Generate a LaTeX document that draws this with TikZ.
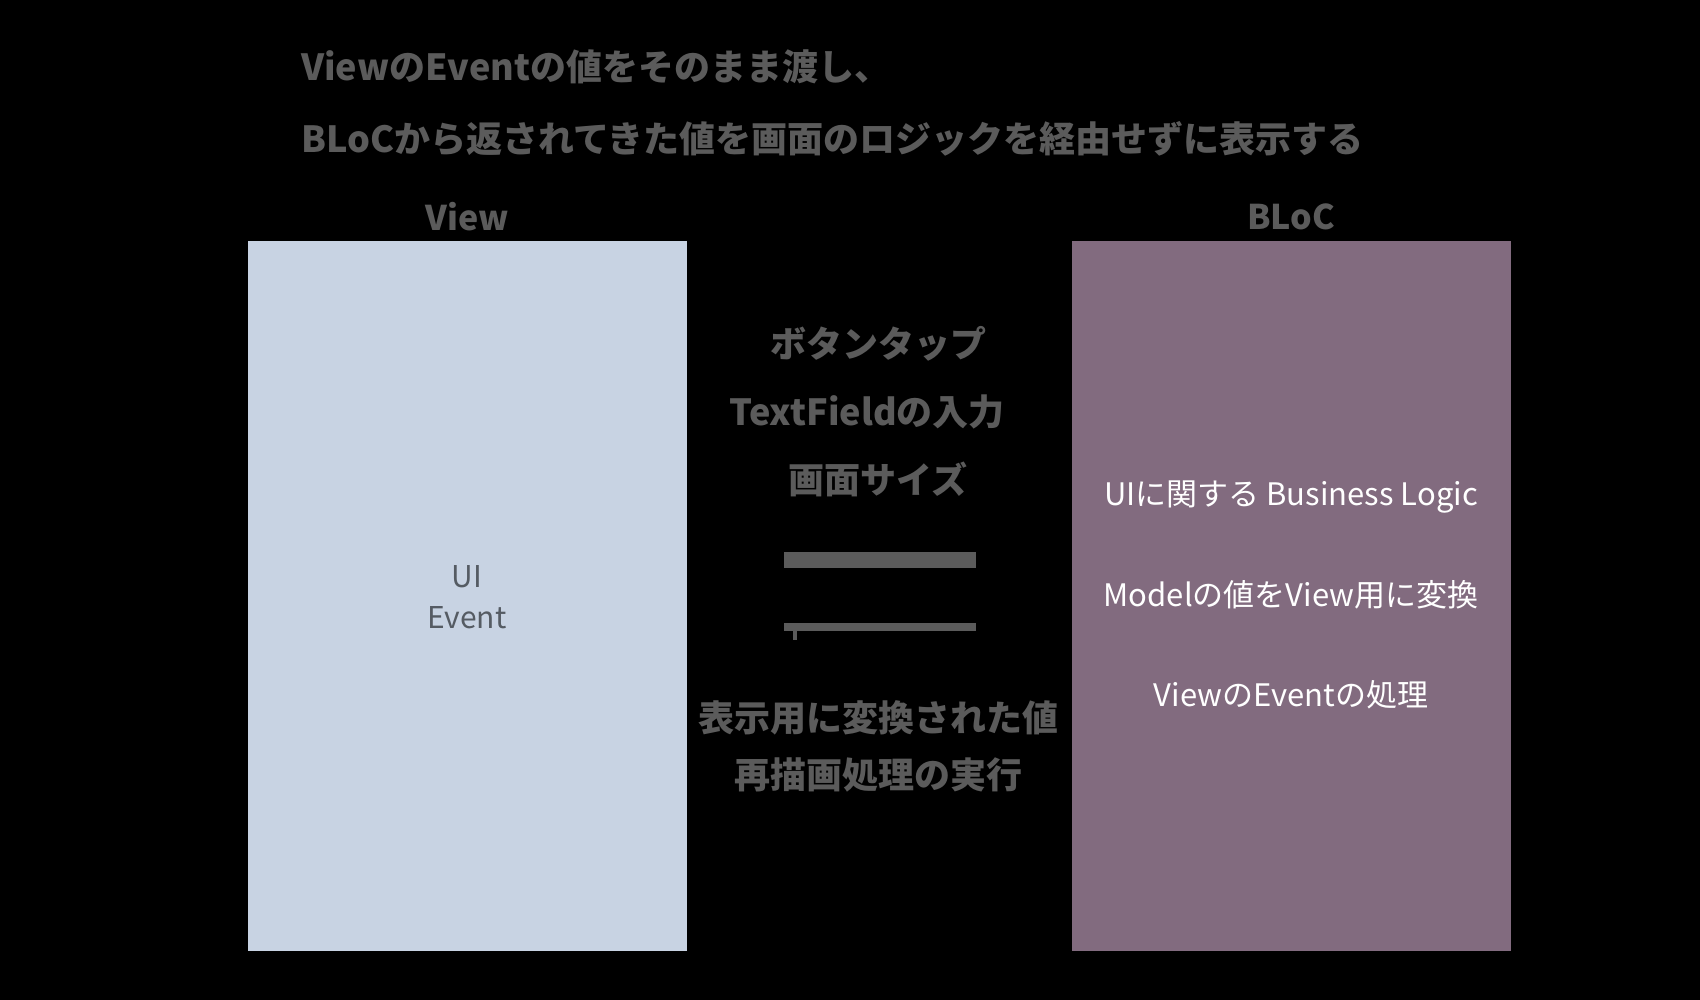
\documentclass[tikz,border=0pt]{standalone}
\usepackage{fontspec}
\setmainfont{Noto Sans CJK JP}
\definecolor{graytxt}{HTML}{5B5B5B}
\definecolor{viewfill}{HTML}{C8D3E3}
\definecolor{blocfill}{HTML}{826B7F}
\definecolor{uigray}{HTML}{555B63}
\tikzset{
  graytext/.style={text=graytxt, inner sep=0pt, font=\fontsize{36}{44}\selectfont\bfseries},
  panel/.style={inner sep=0pt, minimum width=439pt, minimum height=710pt, anchor=north west, draw=none},
  bloctext/.style={text=white, inner sep=0pt, font=\fontsize{31}{38}\selectfont},
  bar/.style={draw=graytxt, line cap=butt}
}
\begin{document}
\begin{tikzpicture}[x=1pt,y=-1pt]
\useasboundingbox[fill=black] (0,0) rectangle (1700,1000);

\node[graytext, anchor=west] (t1) at (301,67) {ViewのEventの値をそのまま渡し、};
\node[graytext, anchor=west] (t2) at (301,139) {BLoCから返されてきた値を画面のロジックを経由せずに表示する};

\node[graytext, font=\fontsize{34}{40}\selectfont\bfseries] (lview) at (467,217) {View};
\node[graytext, font=\fontsize{34}{40}\selectfont\bfseries] (lbloc) at (1291,217) {BLoC};

\node[panel, fill=viewfill] (view) at (248,241) {};
\node[panel, fill=blocfill] (bloc) at (1072,241) {};

\node[align=center, text=uigray, inner sep=0pt, font=\fontsize{30}{41}\selectfont] (uiev) at (467,597) {UI\\Event};

\node[bloctext] (b1) at (1291,497) {UIに関する Business Logic};
\node[bloctext] (b2) at (1291,595) {Modelの値をView用に変換};
\node[bloctext] (b3) at (1291,695) {ViewのEventの処理};

\node[graytext] (m1) at (878,344) {ボタンタップ};
\node[graytext] (m2) at (867,412) {TextFieldの入力};
\node[graytext] (m3) at (878,479) {画面サイズ};

\coordinate (a1s) at (784,560);
\coordinate (a1e) at (976,560);
\draw[bar, line width=16pt] (a1s) -- (a1e);

\coordinate (a2s) at (784,627);
\coordinate (a2e) at (976,627);
\coordinate (a2t) at (795,640);
\draw[bar, line width=8pt] (a2s) -- (a2e);
\draw[bar, line width=4pt] (795,627) -- (a2t);

\node[graytext] (n1) at (878,718) {表示用に変換された値};
\node[graytext] (n2) at (878,775) {再描画処理の実行};
\end{tikzpicture}
\end{document}
